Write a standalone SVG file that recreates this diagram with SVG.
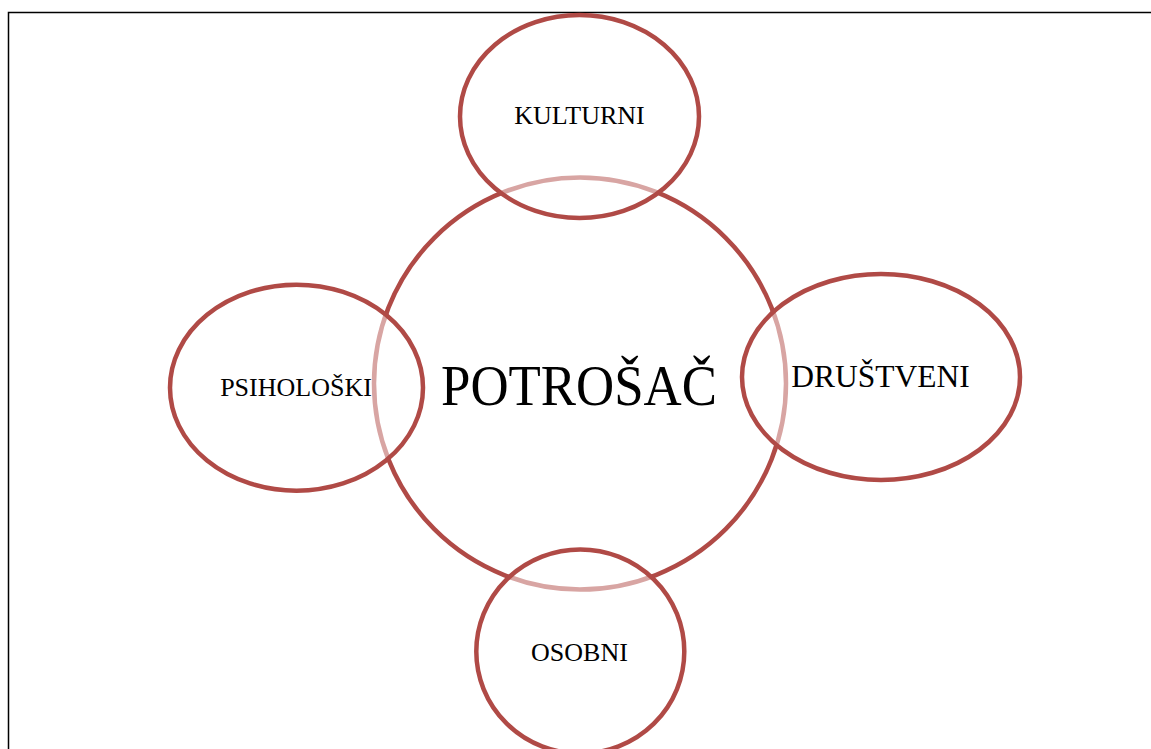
<svg xmlns="http://www.w3.org/2000/svg" width="1151" height="749" viewBox="0 0 1151 749">
<style>
.ring{stroke:#B04A46;stroke-width:4.5;}
.center{fill:#FFFFFF;}
.outer{fill:#FFFFFF;fill-opacity:0.5;}
.lbl{font-family:"Liberation Serif","Times New Roman",serif;fill:#000000;text-anchor:middle;}
</style>
<rect x="0" y="0" width="1151" height="749" fill="#FFFFFF"/>
<path d="M8.5,749 V12.5 H1151" fill="none" stroke="#000000" stroke-width="1.5"/>
<g id="connectors"></g>
<g id="node-potrosac">
<circle class="ring center" cx="580" cy="383.5" r="206"/>
</g>
<g id="node-kulturni">
<ellipse class="ring outer" cx="579.5" cy="116.5" rx="119.5" ry="101.5"/>
<text class="lbl" x="579.5" y="124" font-size="26">KULTURNI</text>
</g>
<g id="node-psiholoski">
<ellipse class="ring outer" cx="296.5" cy="387.7" rx="126.5" ry="103"/>
</g>
<g id="node-drustveni">
<ellipse class="ring outer" cx="881" cy="377" rx="139" ry="103"/>
</g>
<g id="node-osobni">
<ellipse class="ring outer" cx="580.3" cy="651.5" rx="104" ry="102"/>
<text class="lbl" x="579.5" y="660.7" font-size="26">OSOBNI</text>
</g>
<g id="labels">
<text class="lbl" x="579" y="405" font-size="56" textLength="276" lengthAdjust="spacingAndGlyphs">POTROŠAČ</text>
<text class="lbl" x="296" y="396" font-size="26">PSIHOLOŠKI</text>
<text class="lbl" x="880.5" y="386.7" font-size="31.5">DRUŠTVENI</text>
</g>
</svg>
